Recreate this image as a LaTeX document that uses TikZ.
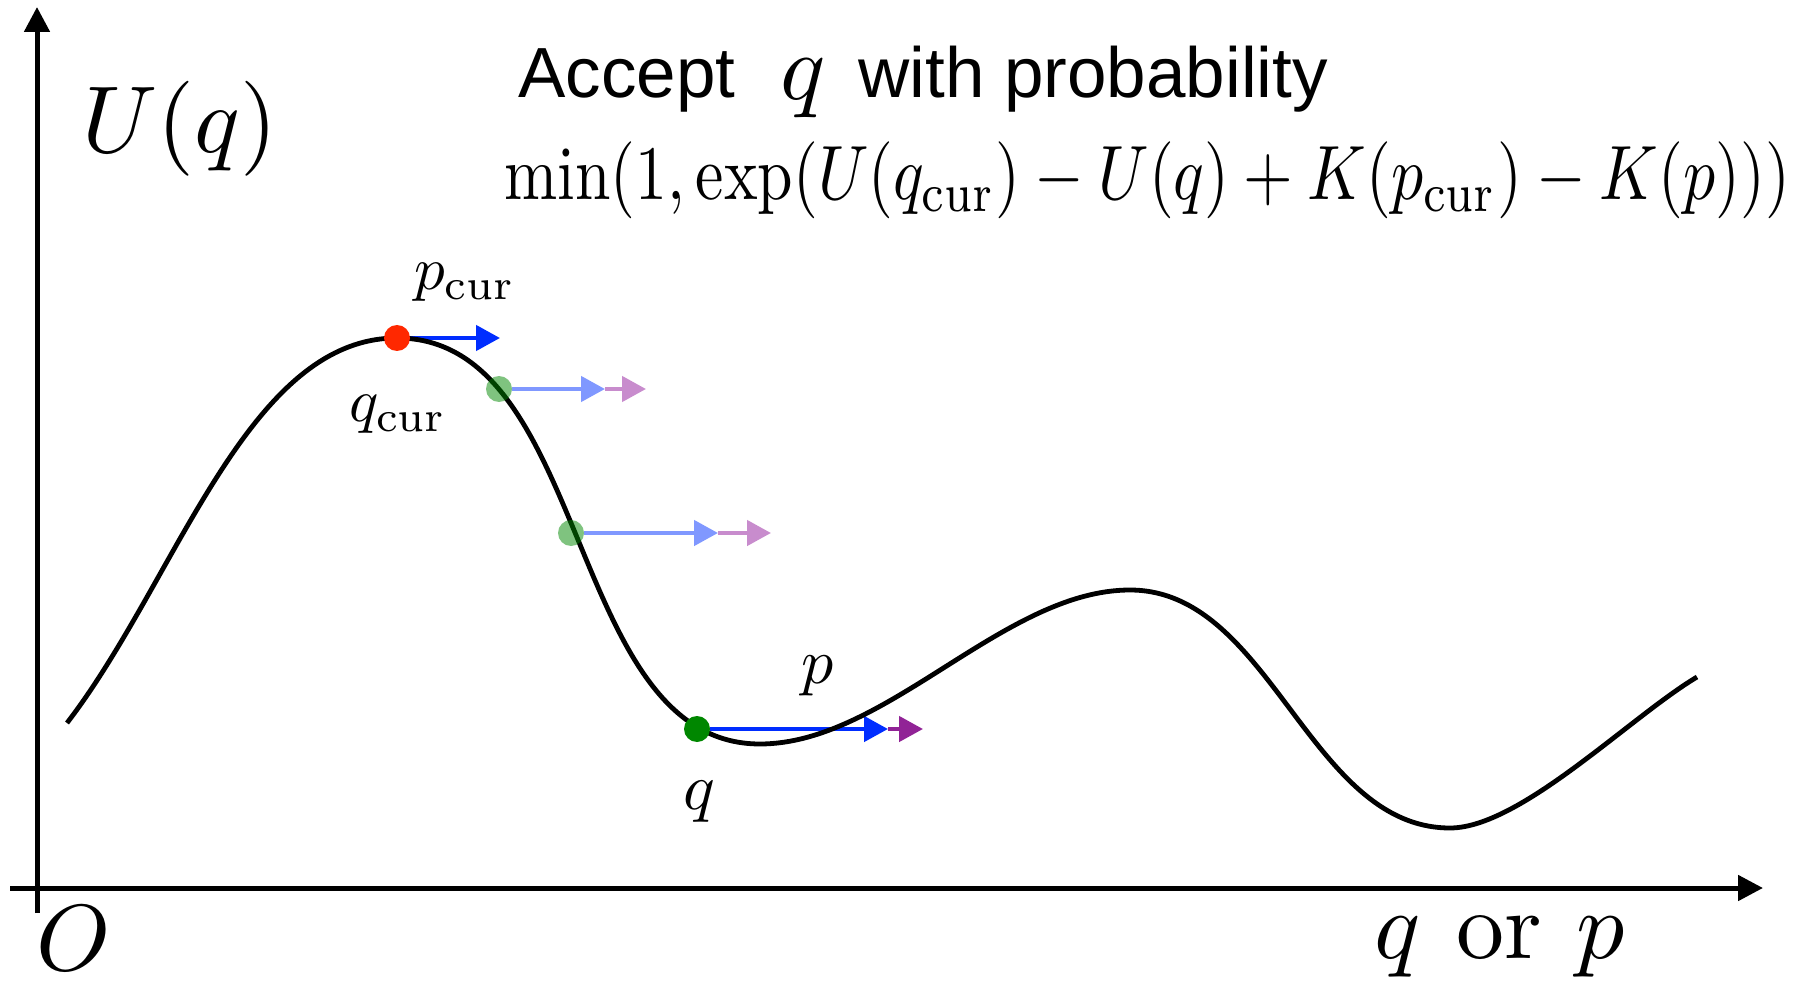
\documentclass[tikz,border=0pt]{standalone}
\usepackage{fontspec}
\newfontfamily\helv{Liberation Sans}
\usetikzlibrary{arrows.meta}
\definecolor{redD}{RGB}{255,40,0}
\definecolor{blueD}{RGB}{0,45,255}
\definecolor{lblue}{RGB}{128,152,255}
\definecolor{pinkD}{RGB}{200,140,205}
\definecolor{purpD}{RGB}{145,35,150}
\definecolor{greenD}{RGB}{0,135,0}
\pgfdeclarelayer{back}
\pgfsetlayers{back,main}
\tikzset{
  axisline/.style={line width=2.5pt, -{Triangle[length=12.5pt,width=12.5pt]}},
  energy/.style={line width=2.4pt, line join=round},
  ptdot/.style={circle, inner sep=0pt, minimum size=13pt, draw=none},
  mom/.style={line width=2.3pt, -{Triangle[length=12pt,width=12.5pt]}},
  lbl/.style={inner sep=0pt, anchor=base},
  lblw/.style={inner sep=0pt, anchor=base west},
}
\begin{document}
\begin{tikzpicture}[x=0.5pt,y=-0.5pt]
\useasboundingbox (0,0) rectangle (1800,984);
% axes
\coordinate (yb) at (37,913);
\coordinate (yt) at (37,7);
\coordinate (xl) at (10,888);
\coordinate (xr) at (1763,888);
\draw[axisline] (yb) -- (yt);
\draw[axisline] (xl) -- (xr);
% potential energy curve
\draw[energy] (67,723) .. controls (177,580) and (247,338) .. (397,338)
  .. controls (592,338) and (565,744) .. (760,744)
  .. controls (886,744) and (1004,590) .. (1130,590)
  .. controls (1271,590) and (1309,828) .. (1450,828)
  .. controls (1520,828) and (1630,717) .. (1697,677);
% points
\node[ptdot, fill=redD] (qc) at (397,338) {};
\node[ptdot, fill=greenD, fill opacity=0.5] (g1) at (499,389) {};
\node[ptdot, fill=greenD, fill opacity=0.5] (g2) at (571,533) {};
\node[ptdot, fill=greenD] (qn) at (697,729) {};
% momentum arrows
\coordinate (pct) at (500,338);
\coordinate (g1a) at (605,389);
\coordinate (g1b) at (646,389);
\coordinate (g2a) at (718,533);
\coordinate (g2b) at (771,533);
\coordinate (qna) at (888,729);
\coordinate (qnb) at (923,729);
\begin{pgfonlayer}{back}
\draw[mom, blueD] (qc.east) -- (pct);
\draw[mom, lblue] (g1.east) -- (g1a);
\draw[mom, pinkD] (g1a) -- (g1b);
\draw[mom, lblue] (g2.east) -- (g2a);
\draw[mom, pinkD] (g2a) -- (g2b);
\draw[mom, blueD] (qn.east) -- (qna);
\draw[mom, purpD] (qna) -- (qnb);
\end{pgfonlayer}
% labels
\node[lbl, scale=4.75] (Uq) at (180,153) {$U(q)$};
\node[lblw, scale=3.55, font=\helv] (acc) at (517,98) {Accept};
\node[lblw, scale=4.7] (tq) at (779,100) {$q$};
\node[lblw, scale=3.55, font=\helv] (wp) at (857,98) {with probability};
\node[lblw, xscale=3.19, yscale=3.85] (form) at (503,200)
  {$\min(1,\exp(U(q_{\mathrm{cur}})-U(q)+K(p_{\mathrm{cur}})-K(p)))$};
\node[lbl, scale=3.05] (pcl) at (465,290) {$p_{\mathrm{cur}}$};
\node[lbl, scale=3.05] (qcl) at (398,422) {$q_{\mathrm{cur}}$};
\node[lbl, scale=3.2] (pl) at (818,683) {$p$};
\node[lbl, scale=3.3] (ql) at (699,809) {$q$};
\node[lbl, scale=4.7] (Ol) at (74,970) {$O$};
\node[lbl, scale=4.8] (xlab) at (1500,958) {$q$\hspace{0.37em}or\hspace{0.36em}$p$};
\end{tikzpicture}
\end{document}
